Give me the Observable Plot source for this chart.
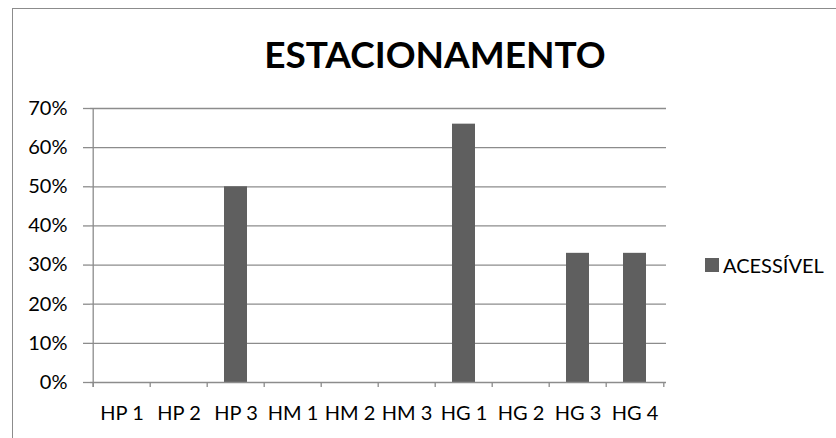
<!DOCTYPE html>
<html><head><meta charset="utf-8">
<script src="https://cdn.jsdelivr.net/npm/d3@7"></script>
<script src="https://cdn.jsdelivr.net/npm/@observablehq/plot@0.6"></script>
<style>
body{margin:0;background:#fff;}
#wrap{position:relative;width:836px;height:438px;font-family:Lato,"Open Sans",sans-serif;overflow:hidden;}
#frame{position:absolute;left:12px;top:8px;width:840px;height:440px;border:1px solid #8c8c8c;box-sizing:border-box;}
#title{position:absolute;left:92px;width:686px;top:30px;text-align:center;font-weight:bold;font-size:37px;line-height:48px;color:#000;}
#legend{position:absolute;left:705px;top:254px;font-size:20px;line-height:22px;color:#000;display:flex;align-items:center;white-space:nowrap;}
#legend span.sw{display:inline-block;width:14px;height:14px;background:#5f5f5f;margin-right:4px;}
#chart{position:absolute;left:0;top:0;}
</style></head>
<body><div id="wrap"><div id="frame"></div><div id="chart"></div>
<div id="title">ESTACIONAMENTO</div>
<div id="legend"><span class="sw"></span>ACESSÍVEL</div></div>
<script>
const categories = ["HP 1","HP 2","HP 3","HM 1","HM 2","HM 3","HG 1","HG 2","HG 3","HG 4"];
const acessivel = [0,0,0.50,0,0,0,0.66,0,0.33,0.33];
const yTicks = [0,0.1,0.2,0.3,0.4,0.5,0.6,0.7];

const data = categories.map((c,i)=>({cat:c, v:acessivel[i]}));
const W=836,H=438,ml=90,mr=170,mt=108,mb=56;
const step=(W-ml-mr)/categories.length;
const grid="#8c8c8c";
const chart = Plot.plot({
  width:W,height:H,marginLeft:ml,marginRight:mr,marginTop:mt,marginBottom:mb,
  style:{fontFamily:"Lato, 'Open Sans', sans-serif",fontSize:"20px",color:"#000",background:"transparent"},
  x:{domain:categories,padding:0,label:null},
  y:{domain:[0,0.7],label:null},
  marks:[
    Plot.ruleY(yTicks.slice(1),{stroke:grid,strokeWidth:1.3}),
    Plot.axisY({ticks:yTicks,tickFormat:d=>Math.round(d*100)+"%",tickSize:7,tickPadding:16,stroke:grid,strokeWidth:1.3,fontSize:20,fill:"#000"}),
    Plot.barY(data,{x:"cat",y:"v",fill:"#5f5f5f",insetLeft:17,insetRight:17}),
    Plot.ruleY([0],{stroke:grid,strokeWidth:1.3}),
    Plot.ruleX(categories,{x:d=>d,dx:-step/2,y1:0,y2:-0.013,stroke:grid,strokeWidth:1.3}),
    Plot.ruleX([categories[categories.length-1]],{x:d=>d,dx:step/2,y1:0,y2:-0.013,stroke:grid,strokeWidth:1.3}),
    Plot.ruleX([categories[0]],{x:d=>d,dx:-step/2,y1:-0.013,y2:0.7,stroke:grid,strokeWidth:1.3}),
    Plot.axisX({tickSize:0,tickPadding:23,fontSize:20,fill:"#000"})
  ]
});
document.getElementById("chart").appendChild(chart);
</script></body></html>
